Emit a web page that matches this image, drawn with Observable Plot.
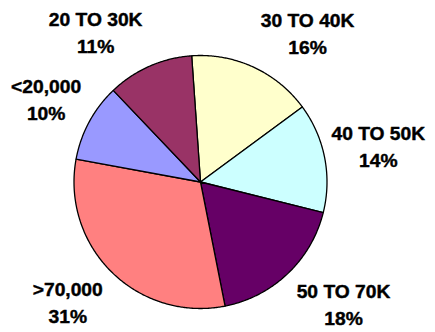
<!DOCTYPE html>
<html><head><meta charset="utf-8">
<script src="https://cdn.jsdelivr.net/npm/d3@7"></script>
<script src="https://cdn.jsdelivr.net/npm/@observablehq/plot@0.6"></script>
<style>body{margin:0;background:#fff}</style>
</head><body><div id="chart"></div>
<script>
const categories = ["30 TO 40K", "40 TO 50K", "50 TO 70K", ">70,000", "<20,000", "20 TO 30K"];
const percents = [16, 14, 18, 31, 10, 11];
const colors = ["#FFFFCC", "#CCFFFF", "#660066", "#FF8080", "#9999FF", "#993366"];

const W = 435, H = 332, cx = 200, cy = 181.5, R = 126.5, startAngle = -4;
const fontSize = 17.5, lineH = 27, stretch = 1.1, labelRx = 133, labelRy = 146;
const total = d3.sum(percents);

let acc = 0;
const slices = categories.map((c, i) => {
  const a0 = startAngle + acc / total * 360;
  acc += percents[i];
  const a1 = startAngle + acc / total * 360;
  return {c, a0, a1, v: percents[i], color: colors[i]};
});

const pts = [];
slices.forEach(s => {
  pts.push({c: s.c, color: s.color, x: 0, y: 0});
  const n = Math.ceil((s.a1 - s.a0) / 0.5);
  for (let k = 0; k <= n; k++) {
    const a = (s.a0 + (s.a1 - s.a0) * k / n) * Math.PI / 180;
    pts.push({c: s.c, color: s.color, x: Math.sin(a), y: Math.cos(a)});
  }
  pts.push({c: s.c, color: s.color, x: 0, y: 0});
});

const ctx = document.createElement("canvas").getContext("2d");
ctx.font = `bold ${fontSize}px "Liberation Sans", Arial, sans-serif`;
const clamp = v => Math.max(-1, Math.min(1, v));
const labels = slices.map(s => {
  const text = `${s.c}\n${s.v}%`;
  const w = Math.max(...text.split("\n").map(t => ctx.measureText(t).width)) * stretch;
  const h = 0.716 * fontSize + lineH;
  const m = ((s.a0 + s.a1) / 2) * Math.PI / 180;
  const sn = Math.sin(m), cs = Math.cos(m);
  const r = 1 / Math.sqrt(sn * sn / (labelRx * labelRx) + cs * cs / (labelRy * labelRy));
  const px = cx + r * sn + (w / 2) * clamp(3 * sn);
  const py = cy - r * cs + (h / 2) * clamp(-3 * cs);
  return {text, x: (px - cx) / R, y: (cy - py) / R};
});

const chart = Plot.plot({
  width: W, height: H,
  marginTop: 0, marginBottom: 0, marginLeft: 0, marginRight: 0,
  x: {domain: [-1, 1], range: [cx - R, cx + R], axis: null},
  y: {domain: [-1, 1], range: [cy + R, cy - R], axis: null},
  color: {type: "identity"},
  style: {background: "#fff"},
  marks: [
    Plot.line(pts, {x: "x", y: "y", z: "c", fill: "color", stroke: "#000", strokeWidth: 1.3, strokeLinejoin: "round"}),
    Plot.text(labels, {x: "x", y: "y", text: "text", lineAnchor: "middle", textAnchor: "middle",
      lineHeight: lineH / fontSize, fontSize, fontWeight: "bold",
      fontFamily: '"Liberation Sans", Arial, sans-serif', fill: "#000",
      stroke: "#000", strokeWidth: 0.4})
  ]
});
chart.querySelectorAll('g[aria-label="text"] text').forEach(t => {
  const tr = t.getAttribute("transform") || "";
  t.setAttribute("transform", tr + ` scale(${stretch},1)`);
});
document.getElementById("chart").appendChild(chart);
</script>
</body></html>
